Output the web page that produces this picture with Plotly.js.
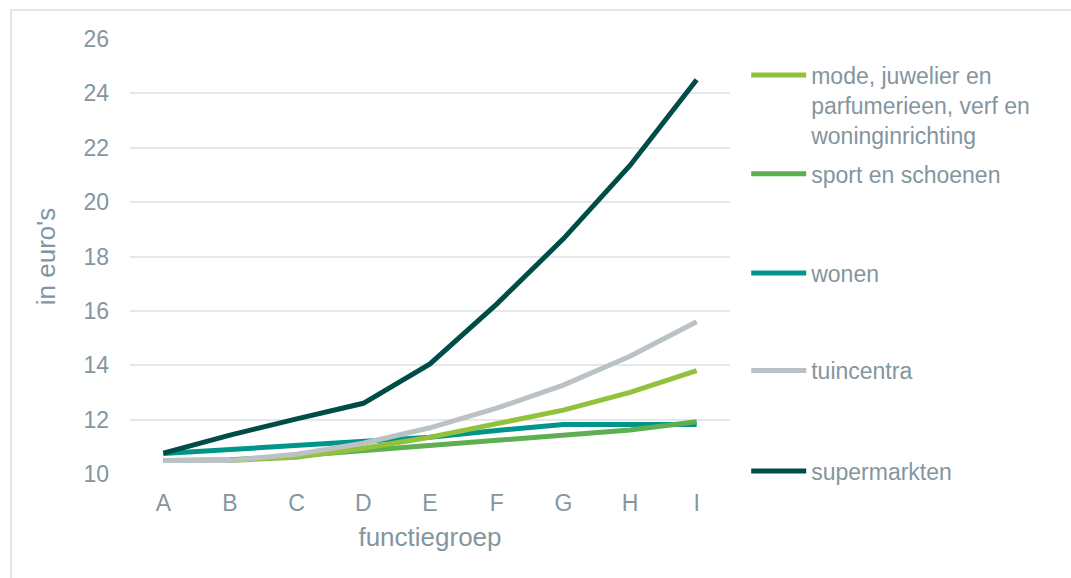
<!DOCTYPE html>
<html>
<head>
<meta charset="utf-8">
<script src="https://cdn.plot.ly/plotly-3.0.1.min.js"></script>
<style>
  html, body { margin: 0; padding: 0; background: #ffffff; }
  #wrap { position: relative; width: 1071px; height: 578px; overflow: hidden; }
  #chart { position: absolute; left: 0; top: 0; width: 1071px; height: 578px; }
  #frame { position: absolute; left: 10px; top: 9px; width: 1200px; height: 700px;
           border-top: 2px solid #e2e7ea; border-left: 2px solid #e2e7ea; pointer-events: none; }
</style>
</head>
<body>
<div id="wrap">
  <div id="chart"></div>
  <div id="frame"></div>
</div>
<script>
// Average amount per function group, in euros
const groups = ['A', 'B', 'C', 'D', 'E', 'F', 'G', 'H', 'I'];

const modeJuwelier = [10.5, 10.5, 10.62, 10.95, 11.35, 11.85, 12.35, 13.0, 13.8];
const sportSchoenen = [10.5, 10.52, 10.67, 10.86, 11.02, 11.2, 11.4, 11.62, 11.92];
const wonen = [10.75, 10.9, 11.05, 11.18, 11.35, 11.6, 11.82, 11.82, 11.82];
const tuincentra = [10.5, 10.5, 10.73, 11.13, 11.7, 12.42, 13.27, 14.33, 15.6];
const supermarkten = [10.77, 11.43, 12.03, 12.6, 14.05, 16.25, 18.65, 21.35, 24.5];

const seriesNames = [
  'mode, juwelier en<br>parfumerieen, verf en<br>woninginrichting',
  'sport en schoenen',
  'wonen',
  'tuincentra',
  'supermarkten'
];
const yTicks = [10, 12, 14, 16, 18, 20, 22, 24, 26];

const textColor = '#8396a0';
const fontFamily = 'Liberation Sans, Arial, sans-serif';

const seriesValues = [modeJuwelier, sportSchoenen, wonen, tuincentra, supermarkten];
const seriesColors = ['#92c13b', '#5eae52', '#00958a', '#bac2c6', '#004d47'];
const legendIds = ['legend', 'legend2', 'legend3', 'legend4', 'legend5'];

// draw order: lighter lines first, supermarkets on top
const drawOrder = [2, 1, 0, 3, 4];
const traces = drawOrder.map(i => ({
  type: 'scatter',
  mode: 'lines',
  x: groups,
  y: seriesValues[i],
  name: seriesNames[i],
  legend: legendIds[i],
  line: { color: seriesColors[i], width: 5, shape: 'linear' },
  hoverinfo: 'x+y+name'
}));

// each series gets its own legend box, spread down the right side
const legendY = [0.848, 0.69, 0.462, 0.238, 0.007];
const legendFont = { family: fontFamily, size: 23, color: textColor };
const legendBase = {
  x: 1.027, xanchor: 'left', yanchor: 'middle',
  bgcolor: 'rgba(0,0,0,0)', borderwidth: 0,
  font: legendFont, itemwidth: 55, valign: 'top',
  itemclick: false, itemdoubleclick: false
};

const layout = {
  width: 1071,
  height: 578,
  margin: { l: 130, r: 341, t: 39, b: 104, pad: 0 },
  paper_bgcolor: 'rgba(0,0,0,0)',
  plot_bgcolor: '#ffffff',
  font: { family: fontFamily, color: textColor },
  showlegend: true,
  xaxis: {
    type: 'category',
    range: [-0.5, 8.5],
    showgrid: false,
    zeroline: false,
    showline: false,
    ticks: '',
    tickfont: { family: fontFamily, size: 23, color: textColor },
    ticklabelstandoff: 13,
    title: { text: 'functiegroep', font: { family: fontFamily, size: 26, color: textColor }, standoff: 12 }
  },
  yaxis: {
    range: [10, 26],
    tickvals: yTicks,
    ticktext: yTicks.map(String),
    showgrid: true,
    gridcolor: '#e3e8eb',
    gridwidth: 1.5,
    zeroline: false,
    showline: false,
    ticks: '',
    tickfont: { family: fontFamily, size: 23, color: textColor },
    ticklabelstandoff: 20,
    title: { text: "in euro's", font: { family: fontFamily, size: 26, color: textColor }, standoff: 20 }
  }
};
legendIds.forEach((id, i) => {
  layout[id] = Object.assign({}, legendBase, { y: legendY[i] });
});

Plotly.newPlot('chart', traces, layout, { displayModeBar: false, staticPlot: false });
</script>
</body>
</html>
